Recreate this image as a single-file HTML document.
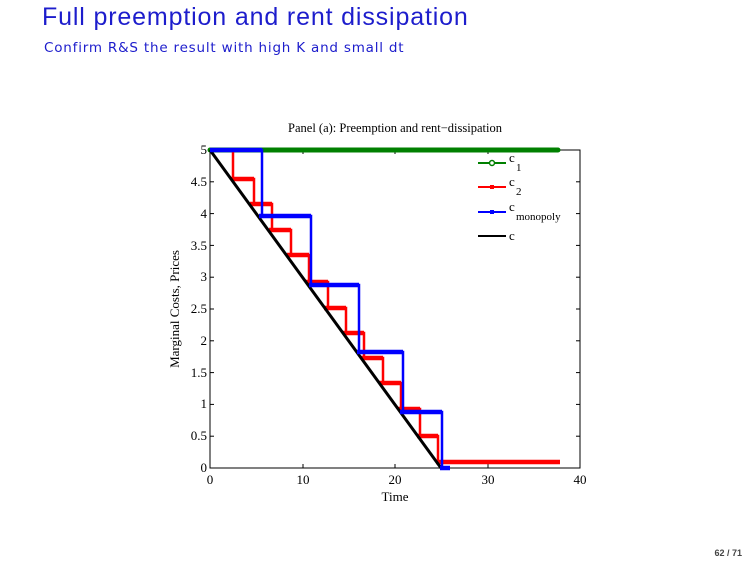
<!DOCTYPE html>
<html><head><meta charset="utf-8"><style>
body{margin:0;width:755px;height:567px;background:#fff;overflow:hidden;position:relative;font-family:"Liberation Sans",sans-serif}
.t1{position:absolute;left:42px;top:3px;font-size:25px;letter-spacing:0.85px;color:#1d1dcc;white-space:nowrap}
.t2{position:absolute;left:44px;top:40px;font-family:"DejaVu Sans",sans-serif;font-size:13.5px;letter-spacing:0.8px;color:#1d1dcc;white-space:nowrap}
.pg{position:absolute;right:13px;top:548px;font-size:9px;font-weight:bold;color:#444}
</style></head><body>
<div class="t1">Full preemption and rent dissipation</div>
<div class="t2">Confirm R&amp;S the result with high K and small dt</div>
<div class="pg">62 / 71</div>
<svg width="755" height="567" style="position:absolute;left:0;top:0" font-family="Liberation Serif,serif">
<text x="395" y="132" font-size="12.5" text-anchor="middle">Panel (a): Preemption and rent−dissipation</text>
<rect x="210" y="150" width="370" height="318" fill="none" stroke="#000" stroke-width="1"/>
<g stroke="#000" stroke-width="1">
<line x1="303" y1="468" x2="303" y2="464"/><line x1="395" y1="468" x2="395" y2="464"/><line x1="488" y1="468" x2="488" y2="464"/>
<line x1="303" y1="150" x2="303" y2="154"/><line x1="395" y1="150" x2="395" y2="154"/><line x1="488" y1="150" x2="488" y2="154"/>
<line x1="210" y1="436.2" x2="214" y2="436.2"/><line x1="210" y1="404.4" x2="214" y2="404.4"/><line x1="210" y1="372.6" x2="214" y2="372.6"/><line x1="210" y1="340.8" x2="214" y2="340.8"/><line x1="210" y1="309" x2="214" y2="309"/><line x1="210" y1="277.2" x2="214" y2="277.2"/><line x1="210" y1="245.4" x2="214" y2="245.4"/><line x1="210" y1="213.6" x2="214" y2="213.6"/><line x1="210" y1="181.8" x2="214" y2="181.8"/>
<line x1="580" y1="436.2" x2="576" y2="436.2"/><line x1="580" y1="404.4" x2="576" y2="404.4"/><line x1="580" y1="372.6" x2="576" y2="372.6"/><line x1="580" y1="340.8" x2="576" y2="340.8"/><line x1="580" y1="309" x2="576" y2="309"/><line x1="580" y1="277.2" x2="576" y2="277.2"/><line x1="580" y1="245.4" x2="576" y2="245.4"/><line x1="580" y1="213.6" x2="576" y2="213.6"/><line x1="580" y1="181.8" x2="576" y2="181.8"/>
</g>
<g font-size="13" text-anchor="end">
<text x="207" y="472">0</text><text x="207" y="440">0.5</text><text x="207" y="408">1</text><text x="207" y="377">1.5</text><text x="207" y="345">2</text><text x="207" y="313">2.5</text><text x="207" y="281">3</text><text x="207" y="250">3.5</text><text x="207" y="218">4</text><text x="207" y="186">4.5</text><text x="207" y="154">5</text>
</g>
<g font-size="13" text-anchor="middle">
<text x="210" y="484">0</text><text x="303" y="484">10</text><text x="395" y="484">20</text><text x="488" y="484">30</text><text x="580" y="484">40</text>
<text x="395" y="501">Time</text>
</g>
<text transform="translate(179,309) rotate(-90)" font-size="13" text-anchor="middle">Marginal Costs, Prices</text>
<line x1="210" y1="150" x2="558" y2="150" stroke="#008000" stroke-width="5" stroke-linecap="round"/>
<polyline fill="none" stroke="#ff0000" stroke-width="2.5" points="210,150 233,150 233,179 254,179 254,204 272,204 272,230 291,230 291,255 309,255 309,282 328,282 328,308 346,308 346,333 364,333 364,358 383,358 383,383 401,383 401,409 420,409 420,436 438,436 438,462 560,462"/>
<g stroke="#ff0000" stroke-width="4.5">
<line x1="231" y1="179" x2="254" y2="179"/><line x1="250" y1="204" x2="272" y2="204"/><line x1="269" y1="230" x2="291" y2="230"/><line x1="287" y1="255" x2="309" y2="255"/><line x1="306" y1="282" x2="328" y2="282"/><line x1="324" y1="308" x2="346" y2="308"/><line x1="343" y1="333" x2="364" y2="333"/><line x1="361" y1="358" x2="383" y2="358"/><line x1="379" y1="383" x2="401" y2="383"/><line x1="398" y1="409" x2="420" y2="409"/><line x1="417" y1="436" x2="438" y2="436"/><line x1="436" y1="462" x2="560" y2="462"/>
</g>
<polyline fill="none" stroke="#000" stroke-width="3" points="210,150 441,468"/>
<polyline fill="none" stroke="#0000ff" stroke-width="2.5" points="210,150 262,150 262,216 311,216 311,285 359,285 359,352 403,352 403,412 442,412 442,468 450,468"/>
<g stroke="#0000ff" stroke-width="4.5">
<line x1="210" y1="150" x2="262" y2="150"/><line x1="259" y1="216" x2="311" y2="216"/><line x1="309" y1="285" x2="359" y2="285"/><line x1="357" y1="352" x2="403" y2="352"/><line x1="400" y1="412" x2="442" y2="412"/><line x1="440" y1="468" x2="450" y2="468"/>
</g>
<g font-size="13">
<line x1="478" y1="163" x2="506" y2="163" stroke="#008000" stroke-width="2"/><circle cx="492" cy="163" r="2.5" fill="#fff" stroke="#008000" stroke-width="1.5"/>
<text x="509" y="162">c</text><text x="516" y="171" font-size="11">1</text>
<line x1="478" y1="187" x2="506" y2="187" stroke="#ff0000" stroke-width="2"/><rect x="490" y="185" width="4" height="4" fill="#ff0000"/>
<text x="509" y="186">c</text><text x="516" y="195" font-size="11">2</text>
<line x1="478" y1="212" x2="506" y2="212" stroke="#0000ff" stroke-width="2"/><rect x="490" y="210" width="4" height="4" fill="#0000ff"/>
<text x="509" y="211">c</text><text x="516" y="220" font-size="11">monopoly</text>
<line x1="478" y1="236" x2="506" y2="236" stroke="#000" stroke-width="2"/>
<text x="509" y="240">c</text>
</g>
</svg>
</body></html>
